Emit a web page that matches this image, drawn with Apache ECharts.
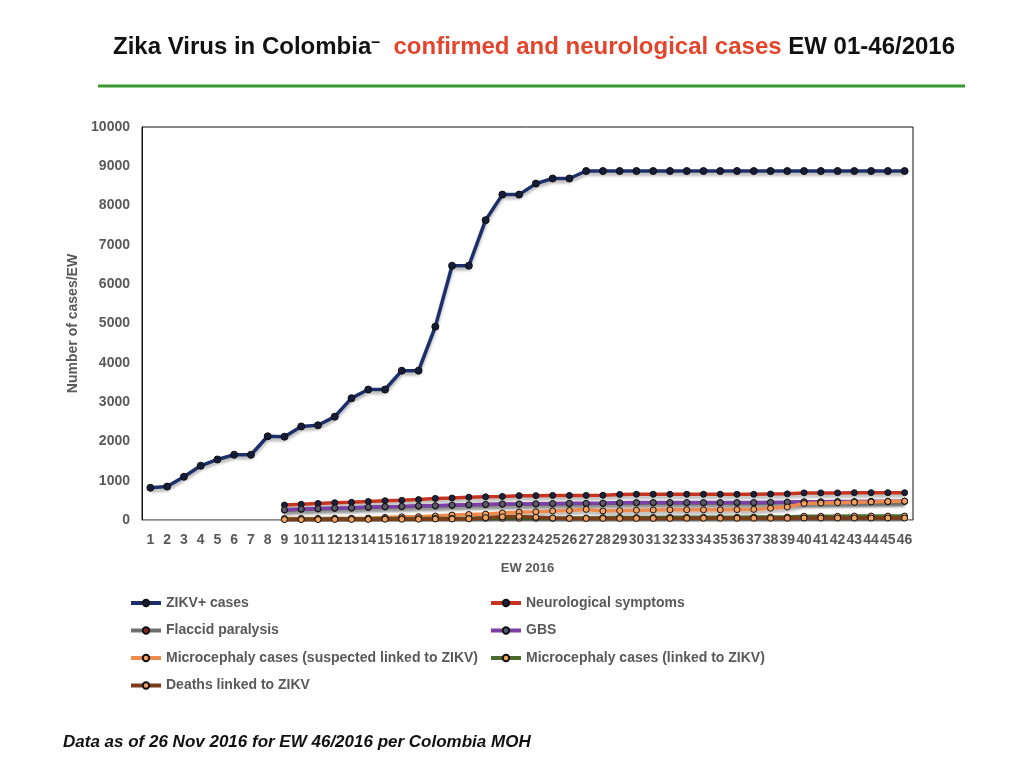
<!DOCTYPE html>
<html>
<head>
<meta charset="utf-8">
<title>Zika Virus in Colombia</title>
<script src="https://cdn.jsdelivr.net/npm/echarts@6/dist/echarts.min.js"></script>
<style>
  html, body { margin: 0; padding: 0; background: #fff; }
  #chart { width: 1024px; height: 768px; }
</style>
</head>
<body>
<div id="chart"></div>
<script>
// epidemiological weeks 1..46
const weeks = ['1','2','3','4','5','6','7','8','9','10','11','12','13','14','15','16','17','18','19','20',
  '21','22','23','24','25','26','27','28','29','30','31','32','33','34','35','36','37','38','39','40',
  '41','42','43','44','45','46']

const zikvCases = [820, 850, 1100, 1380, 1540, 1660, 1660, 2130, 2120, 2380, 2410, 2630, 3100, 3320, 3320,
  3800, 3800, 4920, 6470, 6470, 7630, 8280, 8280, 8560, 8690, 8690, 8880, 8880, 8880, 8880, 8880, 8880,
  8880, 8880, 8880, 8880, 8880, 8880, 8880, 8880, 8880, 8880, 8880, 8880, 8880, 8880]

// the other series start at EW 9
const neuroSymptoms = [null, null, null, null, null, null, null, null,
  380, 400, 420, 440, 450, 470, 490, 500, 520, 550, 560, 580,
  590, 600, 620, 620, 625, 625, 625,
  630, 650, 655, 655, 655, 655, 655,
  655, 655, 655, 660, 665,
  690, 690, 690, 695, 695, 695, 695]

const flaccidParalysis = [null, null, null, null, null, null, null, null,
  250, 270, 280, 295, 300, 320, 330, 335, 350, 355, 370, 380,
  390, 400, 400, 405, 410, 415, 415,
  420, 430, 435, 435, 435, 435, 435,
  435, 435, 435, 440, 445,
  455, 455, 460, 460, 465, 465, 470]

const gbs = [null, null, null, null, null, null, null, null,
  260, 280, 290, 305, 310, 330, 340, 345, 360, 365, 380, 390,
  400, 410, 410, 415, 420, 425, 425,
  430, 440, 445, 445, 445, 445, 445,
  445, 445, 445, 450, 455,
  465, 465, 470, 470, 475, 475, 480]

const microSuspected = [null, null, null, null, null, null, null, null,
  40, 40, 40, 45, 45, 50, 65, 80, 85, 100, 125, 140,
  150, 180, 200, 210, 230, 240, 270,
  230, 240, 250, 255, 260, 260, 260,
  260, 265, 270, 300, 330,
  420, 430, 440, 450, 460, 470, 480]

const microLinked = [null, null, null, null, null, null, null, null,
  20, 25, 25, 30, 30, 30, 35, 35, 35, 40, 40, 40,
  45, 45, 45, 45, 45, 50, 50,
  60, 65, 65, 65, 70, 70, 70,
  70, 70, 75, 75, 75,
  95, 95, 95, 100, 100, 100, 100]

const deathsLinked = [null, null, null, null, null, null, null, null,
  10, 10, 10, 15, 15, 15, 20, 20, 20, 25, 25, 30,
  60, 80, 90, 70, 50, 40, 40,
  40, 40, 40, 40, 40, 45, 45,
  45, 45, 45, 45, 45,
  50, 50, 50, 50, 50, 50, 50]

const yTicks = { min: 0, max: 10000, interval: 1000 }

const FONT = '"Liberation Sans", Arial, sans-serif'
const GREY_TEXT = '#595959'

function lineSeries(name, data, lineColor, markerColor, symbolSize) {
  return {
    name,
    type: 'line',
    data,
    symbol: 'circle',
    symbolSize: symbolSize || 6,
    connectNulls: false,
    lineStyle: {
      color: lineColor,
      width: 3.5,
      shadowColor: 'rgba(0,0,0,0.3)',
      shadowBlur: 3,
      shadowOffsetY: 3,
    },
    itemStyle: { color: markerColor, borderColor: '#111', borderWidth: 1 },
    emphasis: { disabled: true },
  }
}

const legendText = { color: GREY_TEXT, fontWeight: 'bold', fontSize: 14, fontFamily: FONT }

const option = {
  backgroundColor: '#fff',
  animation: false,
  textStyle: { fontFamily: FONT },
  title: {
    left: 529,
    textAlign: 'center',
    top: 30,
    text: '{a|Zika Virus in Colombia}{b|–}{c|  confirmed and neurological cases}{a| EW 01-46/2016}',
    textStyle: {
      rich: {
        a: { fontSize: 24, fontWeight: 'bold', color: '#111', fontFamily: FONT },
        b: { fontSize: 16, fontWeight: 'bold', color: '#111', fontFamily: FONT, verticalAlign: 'top' },
        c: { fontSize: 24, fontWeight: 'bold', color: '#e2452b', fontFamily: FONT },
      },
    },
  },
  graphic: [
    {
      type: 'line',
      shape: { x1: 98, y1: 86, x2: 965, y2: 86 },
      style: { stroke: '#3a9a2f', lineWidth: 3 },
    },
    {
      type: 'text',
      left: 63,
      top: 734,
      style: {
        text: 'Data as of 26 Nov 2016 for EW 46/2016 per Colombia MOH',
        font: 'italic bold 17px "Liberation Sans", Arial, sans-serif',
        fill: '#111',
      },
    },
  ],
  legend: [
    {
      left: 124,
      top: 591,
      orient: 'vertical',
      itemWidth: 30,
      itemHeight: 8,
      itemGap: 13.5,
      lineStyle: { width: 4 },
      textStyle: legendText,
      data: ['ZIKV+ cases', 'Flaccid paralysis', 'Microcephaly cases (suspected linked to ZIKV)', 'Deaths linked to ZIKV'],
    },
    {
      left: 484,
      top: 591,
      orient: 'vertical',
      itemWidth: 30,
      itemHeight: 8,
      itemGap: 13.5,
      lineStyle: { width: 4 },
      textStyle: legendText,
      data: ['Neurological symptoms', 'GBS', 'Microcephaly cases (linked to ZIKV)'],
    },
  ],
  grid: {
    left: 142,
    right: 111,
    top: 127,
    bottom: 248,
    show: true,
    borderColor: '#111',
    borderWidth: 1,
  },
  xAxis: {
    type: 'category',
    data: weeks,
    boundaryGap: true,
    name: 'EW 2016',
    nameLocation: 'middle',
    nameGap: 42,
    nameTextStyle: { color: GREY_TEXT, fontWeight: 'bold', fontSize: 13 },
    axisLine: { lineStyle: { color: '#aaa', width: 1 } },
    axisTick: { show: false },
    axisLabel: { interval: 0, color: GREY_TEXT, fontWeight: 'bold', fontSize: 14, margin: 13 },
  },
  yAxis: {
    type: 'value',
    min: yTicks.min,
    max: yTicks.max,
    interval: yTicks.interval,
    name: 'Number of cases/EW',
    nameLocation: 'middle',
    nameGap: 60,
    nameTextStyle: { color: GREY_TEXT, fontWeight: 'bold', fontSize: 14 },
    axisLine: { show: true, lineStyle: { color: '#111' } },
    axisTick: { show: false },
    splitLine: { show: false },
    axisLabel: { color: GREY_TEXT, fontWeight: 'bold', fontSize: 14, margin: 12, formatter: (v) => String(v) },
  },
  series: [
    lineSeries('ZIKV+ cases', zikvCases, '#1c2f6b', '#141c38', 7),
    lineSeries('Neurological symptoms', neuroSymptoms, '#c8331f', '#18213f'),
    lineSeries('Flaccid paralysis', flaccidParalysis, '#707070', '#8a2b1c'),
    lineSeries('GBS', gbs, '#7b3fa6', '#5b5b68'),
    lineSeries('Microcephaly cases (suspected linked to ZIKV)', microSuspected, '#ee8a4b', '#f2a363'),
    lineSeries('Microcephaly cases (linked to ZIKV)', microLinked, '#4b6b2c', '#f2a363'),
    lineSeries('Deaths linked to ZIKV', deathsLinked, '#7a3d18', '#f2a363'),
  ],
}

const chart = echarts.init(document.getElementById('chart'))
chart.setOption(option)
</script>
</body>
</html>
